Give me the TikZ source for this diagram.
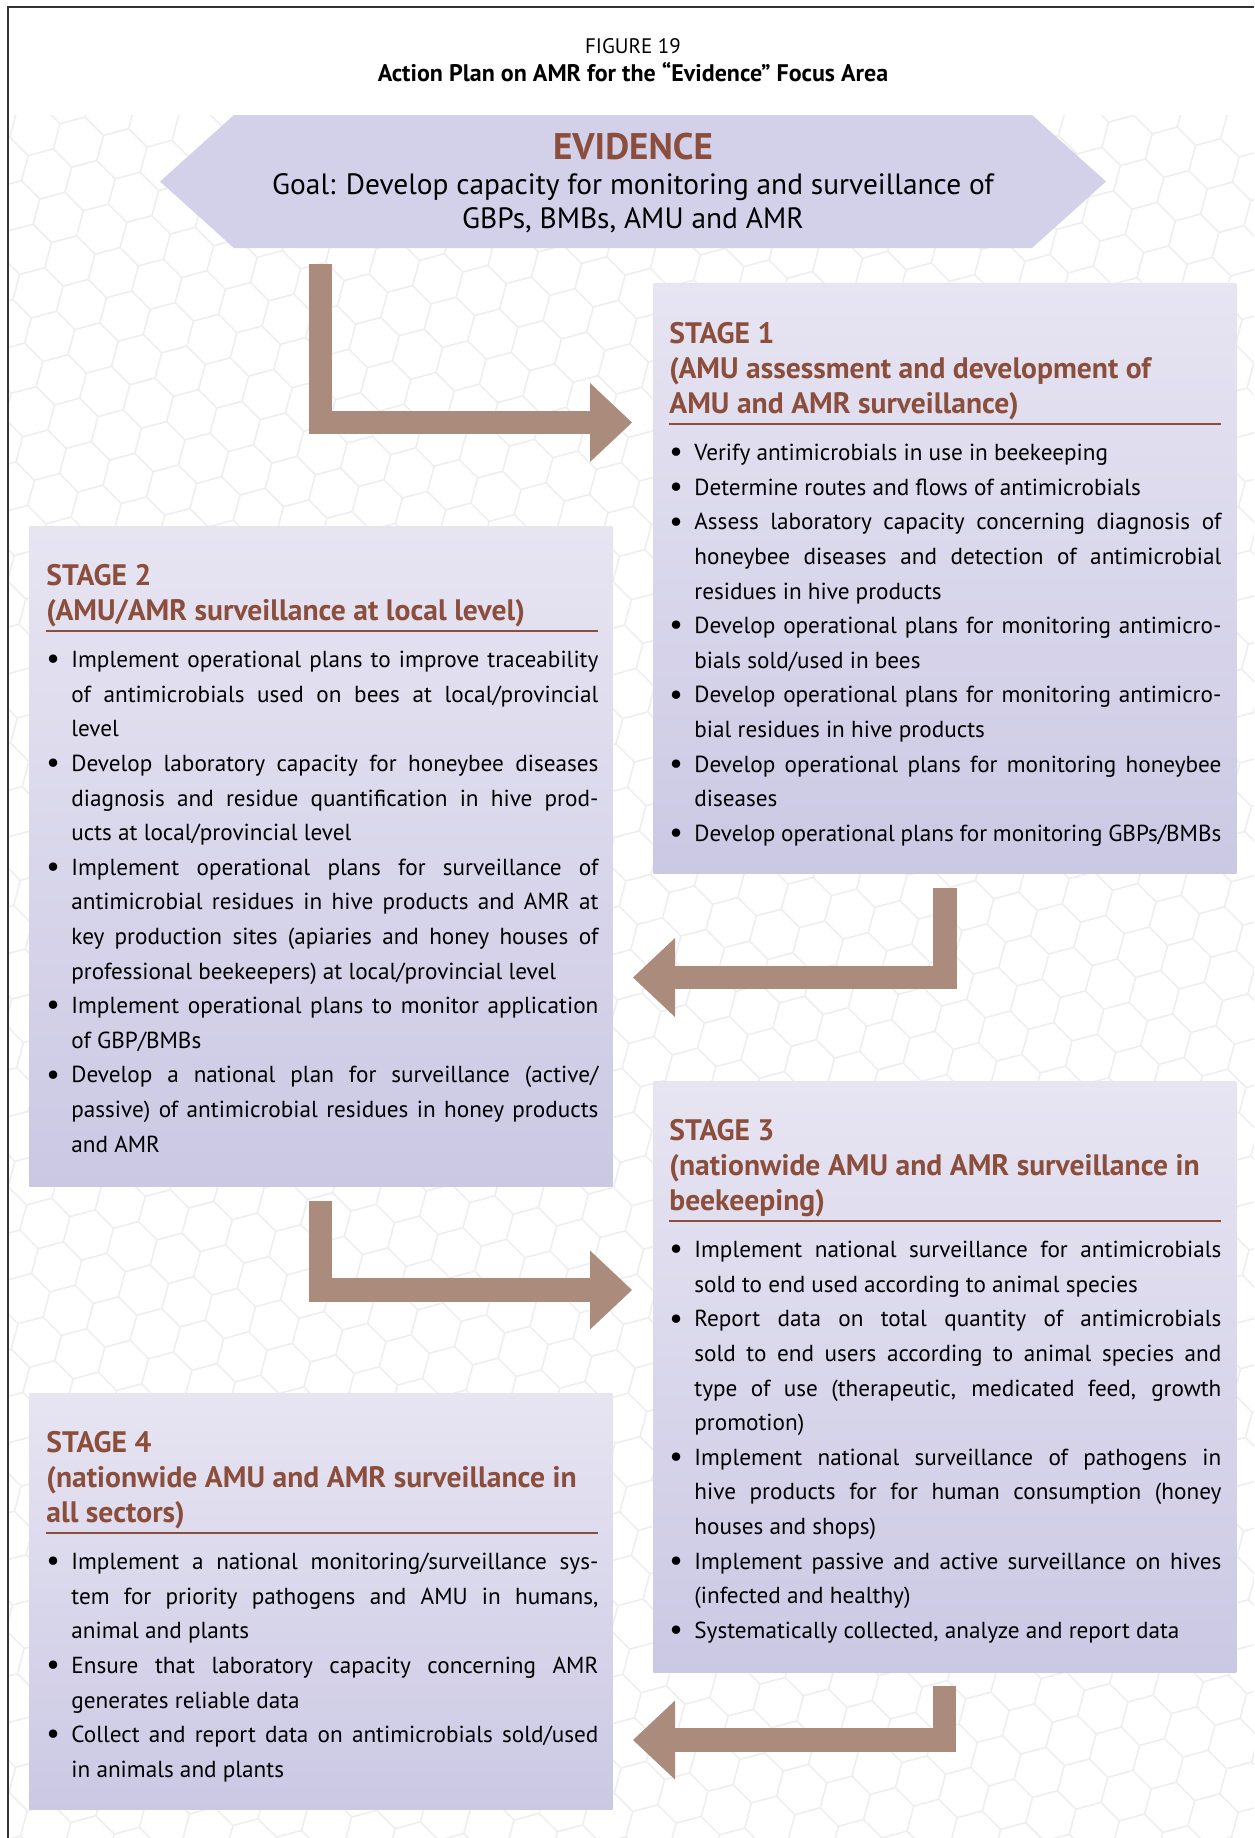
\documentclass[tikz,border=0pt]{standalone}
\usepackage{fontspec}
\setmainfont{PT Sans}
\usetikzlibrary{arrows.meta, positioning}

\definecolor{stagebrown}{RGB}{139,78,60}
\definecolor{arrowbrown}{RGB}{171,139,124}
\definecolor{boxtop}{RGB}{231,229,242}
\definecolor{boxbottom}{RGB}{203,200,228}
\definecolor{bannerfill}{RGB}{211,208,234}
\definecolor{hexline}{RGB}{238,238,238}

% heading of a stage box, with the brown rule under it
\newcommand{\stagetitle}[1]{%
  {\color{stagebrown}\fontsize{14.8}{17.5}\selectfont\bfseries #1\par}%
  \vskip-\prevdepth\vskip5.2pt{\color{stagebrown}\hrule height 0.6pt}\vskip0.7pt\prevdepth=0pt}
% one bullet of a stage box
\newcommand{\stageitem}[1]{%
  \noindent\hangindent=12.5pt\hangafter=1%
  \makebox[12.5pt][l]{\raisebox{-0.6pt}{\fontsize{15}{15}\selectfont\textbullet}}#1\par}

\tikzset{
  stagebox/.style = {top color=boxtop, bottom color=boxbottom, draw=none,
    inner sep=0pt, anchor=north west, minimum width=291.5pt},
  stagetext/.style = {anchor=base west, inner sep=0pt, text width=276pt,
    align=justify, font=\fontsize{11.6}{17.3}\selectfont},
  flowarrow/.style = {draw=arrowbrown, line width=11.75pt, line join=miter,
    -{Triangle[length=21pt, width=39.5pt, line width=0pt]}}
}

\begin{document}
\begin{tikzpicture}[x=0.5pt, y=-0.5pt]
  \tolerance=10000 \hbadness=10000 \hyphenpenalty=10000
  \useasboundingbox (0,0) rectangle (1254,1838);

  % honeycomb in the background
  \begin{scope}
    \clip (8,115) rectangle (1254,1838);
    \begin{scope}[rotate=-15]
      \foreach \j in {-7,...,48} {
        \foreach \i in {-1,...,40} {
          \pgfmathsetmacro{\cx}{(\i + 0.5*mod(\j+100,2))*45}
          \pgfmathsetmacro{\cy}{\j*39}
          \draw[hexline, line width=0.8pt] (\cx,\cy) ++(330:26) -- ++(90:26)
            -- ++(150:26) -- ++(210:26);
        }
      }
    \end{scope}
  \end{scope}

  % frame
  \draw[black!80, line width=1pt] (1254,7) -| (8,1838);

  % title
  \node[anchor=base, font=\fontsize{10.5}{12}\selectfont] (fig) at (633,53) {FIGURE 19};
  \node[anchor=base, font=\fontsize{12}{14}\selectfont\bfseries] (caption) at (633,81)
    {Action Plan on AMR for the “Evidence” Focus Area};

  % the goal banner
  \fill[bannerfill] (160,181.5) -- (234,115) -- (1032,115) -- (1106,181.5)
    -- (1032,248) -- (234,248) -- cycle;
  \node[anchor=base, text=stagebrown, font=\fontsize{18.5}{20}\selectfont\bfseries]
    (evidence) at (633,159) {EVIDENCE};
  \node[anchor=base, align=center, font=\fontsize{14.7}{17}\selectfont] (goal) at (633,228)
    {Goal: Develop capacity for monitoring and surveillance of\\GBPs, BMBs, AMU and AMR};

  % stage boxes
  \node[stagebox, minimum height=295pt] (s1) at (653,283) {};
  \node[stagebox, minimum height=330pt] (s2) at (29,526) {};
  \node[stagebox, minimum height=295.5pt] (s3) at (653,1081) {};
  \node[stagebox, minimum height=208pt] (s4) at (29,1393) {};

  % arrows between the stages
  \coordinate (a1s) at (320.5,264);  \coordinate (a1e) at (632,422.5);
  \coordinate (a2s) at (945,888);    \coordinate (a2e) at (633,977.5);
  \coordinate (a3s) at (320.5,1201); \coordinate (a3e) at (632,1290);
  \coordinate (a4s) at (944.5,1686); \coordinate (a4e) at (633,1740);
  \draw[flowarrow] (a1s) |- (a1e);
  \draw[flowarrow] (a2s) |- (a2e);
  \draw[flowarrow] (a3s) |- (a3e);
  \draw[flowarrow] (a4s) |- (a4e);

  % texts of the stages
  \node[stagetext] (s1text) at ([xshift=8pt, yshift=-30pt]s1.north west) {%
    \stagetitle{STAGE 1\\(AMU assessment and development of\\AMU and AMR surveillance)}%
    \stageitem{Verify antimicrobials in use in beekeeping}%
    \stageitem{Determine routes and flows of antimicrobials}%
    \stageitem{Assess laboratory capacity concerning diagnosis of\linebreak
      honeybee diseases and detection of antimicrobial\linebreak residues in hive products}%
    \stageitem{Develop operational plans for monitoring antimicro-\linebreak
      bials sold/used in bees}%
    \stageitem{Develop operational plans for monitoring antimicro-\linebreak
      bial residues in hive products}%
    \stageitem{Develop operational plans for monitoring honeybee\linebreak diseases}%
    \stageitem{Develop operational plans for monitoring GBPs/BMBs}};

  \node[stagetext] (s2text) at ([xshift=8.5pt, yshift=-29.5pt]s2.north west) {%
    \stagetitle{STAGE 2\\(AMU/AMR surveillance at local level)}%
    \stageitem{Implement operational plans to improve traceability\linebreak
      of antimicrobials used on bees at local/provincial\linebreak level}%
    \stageitem{Develop laboratory capacity for honeybee diseases\linebreak
      diagnosis and residue quantification in hive prod-\linebreak
      ucts at local/provincial level}%
    \stageitem{Implement operational plans for surveillance of\linebreak
      antimicrobial residues in hive products and AMR at\linebreak
      key production sites (apiaries and honey houses of\linebreak
      professional beekeepers) at local/provincial level}%
    \stageitem{Implement operational plans to monitor application\linebreak of GBP/BMBs}%
    \stageitem{Develop a national plan for surveillance (active/\linebreak
      passive) of antimicrobial residues in honey products\linebreak and AMR}};

  \node[stagetext] (s3text) at ([xshift=8pt, yshift=-29.5pt]s3.north west) {%
    \stagetitle{STAGE 3\\(nationwide AMU and AMR surveillance in\\beekeeping)}%
    \stageitem{Implement national surveillance for antimicrobials\linebreak
      sold to end used according to animal species}%
    \stageitem{Report data on total quantity of antimicrobials\linebreak
      sold to end users according to animal species and\linebreak
      type of use (therapeutic, medicated feed, growth\linebreak promotion)}%
    \stageitem{Implement national surveillance of pathogens in\linebreak
      hive products for for human consumption (honey\linebreak houses and shops)}%
    \stageitem{Implement passive and active surveillance on hives\linebreak
      (infected and healthy)}%
    \stageitem{Systematically collected, analyze and report data}};

  \node[stagetext] (s4text) at ([xshift=8.5pt, yshift=-29.5pt]s4.north west) {%
    \stagetitle{STAGE 4\\(nationwide AMU and AMR surveillance in\\all sectors)}%
    \stageitem{Implement a national monitoring/surveillance sys-\linebreak
      tem for priority pathogens and AMU in humans,\linebreak animal and plants}%
    \stageitem{Ensure that laboratory capacity concerning AMR\linebreak
      generates reliable data}%
    \stageitem{Collect and report data on antimicrobials sold/used\linebreak
      in animals and plants}};
\end{tikzpicture}
\end{document}
